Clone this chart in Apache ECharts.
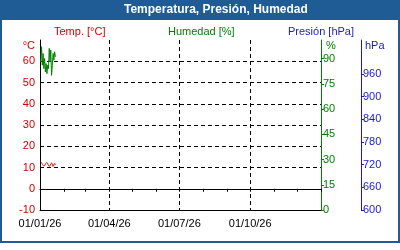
<!DOCTYPE html>
<html>
<head>
<meta charset="utf-8">
<script src="https://cdn.jsdelivr.net/npm/echarts@6/dist/echarts.min.js"></script>
<style>
html,body{margin:0;padding:0;background:#fff;}
#c{width:400px;height:250px;}
</style>
</head>
<body>
<div id="c"></div>
<script>
var titleText = 'Temperatura, Presión, Humedad';
var seriesNames = ['Temp. [°C]', 'Humedad [%]', 'Presión [hPa]'];
var times = ['2026-01-02','2026-01-03','2026-01-04','2026-01-05','2026-01-06','2026-01-07','2026-01-08','2026-01-09','2026-01-10','2026-01-11','2026-01-12','2026-01-13','2026-01-14','2026-01-15','2026-01-16','2026-01-17','2026-01-18','2026-01-19','2026-01-20','2026-01-21'];
var temperature = [12.7,12.2,11.5,11.0,10.8,10.9,11.6,12.2,12.3,11.8,11.0,10.6,10.8,11.6,12.1,11.5,10.5,11.2,11.9,11.3];
var humidity = [88,97,86,93,84,90,82,87,81,86,84,96,88,95,80,86,93,89,94,91];
var pressure = [];
var monthTicks = ['2026-01-01','2026-02-01','2026-03-01','2026-04-01','2026-05-01','2026-06-01','2026-07-01','2026-08-01','2026-09-01','2026-10-01','2026-11-01','2026-12-01','2027-01-01'];
var quarterLabels = ['2026-01-01','2026-04-01','2026-07-01','2026-10-01'];
var quarterLines = ['2026-04-01','2026-07-01','2026-10-01'];
var xMin = '2026-01-01', xMax = '2027-01-01';
var tempAxis = {min:-10, max:70, interval:10, unit:'°C'};
var humAxis = {min:0, max:101, interval:15, unit:'%'};
var presAxis = {min:600, max:1050, interval:60, lastLabel:960, unit:'hPa'};
var presTicks = [600,660,720,780,840,900,960];

function t(s){ var p=s.split('-'); return new Date(+p[0], +p[1]-1, +p[2]).getTime(); }
function fmt(v){ var d=new Date(v); function z(n){return (n<10?'0':'')+n;} return z(d.getDate())+'/'+z(d.getMonth()+1)+'/'+z(d.getFullYear()%100); }

var RED='#d40000', GREEN='#008000', BLUE='#1a1acc', FRAME='#1f5c96';
var FONT='Liberation Sans';
var dash={type:[4,3], color:'#000', width:1};

var chart = echarts.init(document.getElementById('c'), null, {renderer:'canvas'});
chart.setOption({
  animation:false,
  backgroundColor:'#fff',
  graphic:[
    {type:'rect', z:0, shape:{x:0,y:0,width:400,height:20}, style:{fill:FRAME}},
    {type:'rect', z:0, shape:{x:1,y:1,width:398,height:241}, style:{fill:'none', stroke:FRAME, lineWidth:2}}
  ],
  title:{text:titleText, left:124, top:4, padding:0, textStyle:{color:'#fff', fontFamily:FONT, fontWeight:'bold', fontSize:12}},
  legend:[
    {left:49, top:25, padding:0, itemWidth:0, itemGap:0, selectedMode:false, data:[{name:seriesNames[0], icon:'none', textStyle:{color:RED}}], textStyle:{fontFamily:FONT, fontSize:11}},
    {left:163, top:25, padding:0, itemWidth:0, itemGap:0, selectedMode:false, data:[{name:seriesNames[1], icon:'none', textStyle:{color:GREEN}}], textStyle:{fontFamily:FONT, fontSize:11}},
    {left:283, top:25, padding:0, itemWidth:0, itemGap:0, selectedMode:false, data:[{name:seriesNames[2], icon:'none', textStyle:{color:BLUE}}], textStyle:{fontFamily:FONT, fontSize:11}}
  ],
  grid:{left:40, top:40, right:79, bottom:40, containLabel:false},
  xAxis:[
    {type:'value', position:'bottom', min:t(xMin), max:t(xMax),
     axisLine:{show:true, lineStyle:{color:'#000', width:1}},
     axisTick:{show:true, inside:false, length:3, lineStyle:{color:'#000'}, customValues:monthTicks.map(t)},
     axisLabel:{show:true, color:'#000', fontFamily:FONT, fontSize:11, margin:8, customValues:quarterLabels.map(t), formatter:function(v){return fmt(v);}},
     splitLine:{show:false}},
    {type:'value', position:'top', min:t(xMin), max:t(xMax),
     axisLine:{show:true, lineStyle:{color:'#000', width:1}},
     axisTick:{show:false, customValues:quarterLines.map(t)},
     axisLabel:{show:false, customValues:quarterLines.map(t)},
     splitLine:{show:true, lineStyle:dash}}
  ],
  yAxis:[
    {type:'value', position:'left', min:tempAxis.min, max:tempAxis.max, interval:tempAxis.interval,
     name:tempAxis.unit, nameLocation:'end', nameGap:-6,
     nameTextStyle:{color:RED, fontFamily:FONT, fontSize:11, align:'right', verticalAlign:'middle', padding:[0,5,0,0]},
     axisLine:{show:true, lineStyle:{color:'#000'}}, axisTick:{show:false},
     axisLabel:{color:RED, fontFamily:FONT, fontSize:11, margin:5, formatter:function(v){return v>=tempAxis.max?'':String(v);}},
     splitLine:{show:true, showMinLine:false, showMaxLine:false, lineStyle:dash}},
    {type:'value', position:'right', min:humAxis.min, max:humAxis.max, interval:humAxis.interval,
     name:humAxis.unit, nameLocation:'end', nameGap:-6,
     nameTextStyle:{color:GREEN, fontFamily:FONT, fontSize:11, align:'left', verticalAlign:'middle', padding:[0,0,0,5]},
     axisLine:{show:true, lineStyle:{color:GREEN}}, axisTick:{show:true, length:3, lineStyle:{color:GREEN}},
     axisLabel:{color:GREEN, fontFamily:FONT, fontSize:11, margin:2, showMaxLabel:false, formatter:function(v){return v%humAxis.interval===0?String(v):'';}},
     splitLine:{show:false}},
    {type:'value', position:'right', offset:40, min:presAxis.min, max:presAxis.max, interval:presAxis.interval,
     name:presAxis.unit, nameLocation:'end', nameGap:-6,
     nameTextStyle:{color:BLUE, fontFamily:FONT, fontSize:11, align:'left', verticalAlign:'middle', padding:[0,0,0,4]},
     axisLine:{show:true, lineStyle:{color:BLUE}}, axisTick:{show:true, length:3, lineStyle:{color:BLUE}, customValues:presTicks},
     axisLabel:{color:BLUE, fontFamily:FONT, fontSize:11, margin:2, customValues:presTicks},
     splitLine:{show:false}}
  ],
  series:[
    {name:seriesNames[0], type:'line', xAxisIndex:0, yAxisIndex:0, showSymbol:false, smooth:true, color:RED, lineStyle:{width:1, color:RED}, data:times.map(function(d,i){return [t(d), temperature[i]];})},
    {name:seriesNames[1], type:'line', xAxisIndex:0, yAxisIndex:1, showSymbol:false, color:GREEN, lineStyle:{width:1, color:GREEN}, data:times.map(function(d,i){return [t(d), humidity[i]];})},
    {name:seriesNames[2], type:'line', xAxisIndex:0, yAxisIndex:2, showSymbol:false, color:BLUE, lineStyle:{width:1, color:BLUE}, data:pressure}
  ]
});
</script>
</body>
</html>
